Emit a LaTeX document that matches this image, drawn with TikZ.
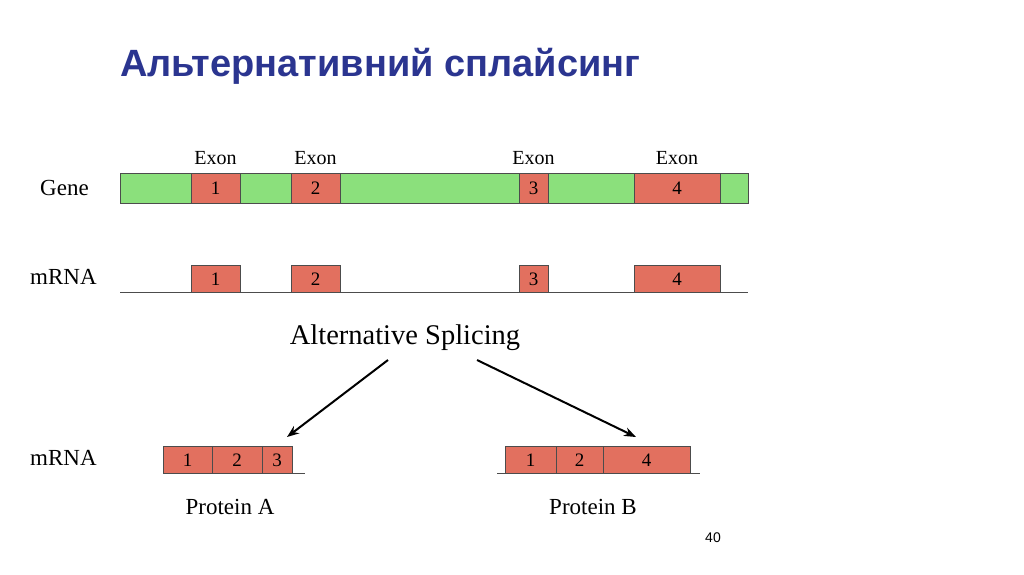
\documentclass[tikz,border=0pt]{standalone}
\usepackage{fontspec}
\usetikzlibrary{arrows.meta}
\setmainfont{Liberation Serif}
\newfontfamily\titlefont{Liberation Sans}
\definecolor{gr}{HTML}{8BE07C}
\definecolor{ex}{HTML}{E2705F}
\definecolor{ttl}{HTML}{2B3590}
\begin{document}
\begin{tikzpicture}[x=1pt,y=-1pt,
  exb/.style={draw=black!70,fill=ex},
  lbl/.style={font=\fontsize{23}{23}\selectfont},
  exl/.style={font=\fontsize{20}{20}\selectfont},
  num/.style={font=\fontsize{19}{19}\selectfont},
  arr/.style={-{Stealth[length=12pt,width=9pt]},line width=2pt}]
\useasboundingbox (0,0) rectangle (1024,574);
\node[anchor=base west,font=\titlefont\bfseries\fontsize{38}{38}\selectfont,text=ttl,inner sep=0] (title) at (120,76) {Альтернативний сплайсинг};
% Gene
\draw[draw=black!70,fill=gr] (120,173) rectangle (748,203);
\foreach \a/\b/\n in {191/240/1,291/340/2,519/548/3,634/720/4}{
  \draw[exb] (\a,173) rectangle (\b,203);
  \node[num] (g\n) at ({(\a+\b)/2},188) {\n};
  \node[exl] (e\n) at ({(\a+\b)/2},158) {Exon};
}
\node[lbl,anchor=west,inner sep=0] (gene) at (40,188) {Gene};
% mRNA
\draw[black!70,line width=0.8pt] (120,292) coordinate (m0) -- (748,292) coordinate (m1);
\foreach \a/\b/\n in {191/240/1,291/340/2,519/548/3,634/720/4}{
  \draw[exb] (\a,265) rectangle (\b,292);
  \node[num] (m\n) at ({(\a+\b)/2},279) {\n};
}
\node[lbl,anchor=west,inner sep=0] (mrna1) at (30,277) {mRNA};
\node[font=\fontsize{28.5}{28.5}\selectfont] (alt) at (405,338) {Alternative Splicing};
\coordinate (la) at (388,360); \coordinate (lb) at (287,437);
\coordinate (ra) at (477,360); \coordinate (rb) at (636,437);
\draw[arr] (la) -- (lb);
\draw[arr] (ra) -- (rb);
% bottom
\draw[black!70,line width=0.8pt] (163,473) -- (305,473);
\foreach \a/\b/\n in {163/212/1,212/262/2,262/292/3}{
  \draw[exb] (\a,446) rectangle (\b,473);
  \node[num] (a\n) at ({(\a+\b)/2},460) {\n};
}
\draw[black!70,line width=0.8pt] (497,473) -- (700,473);
\foreach \a/\b/\n in {505/556/1,556/603/2,603/690/4}{
  \draw[exb] (\a,446) rectangle (\b,473);
  \node[num] (b\n) at ({(\a+\b)/2},460) {\n};
}
\node[lbl,anchor=west,inner sep=0] (mrna2) at (30,458) {mRNA};
\node[lbl] (pa) at (230,507) {Protein A};
\node[lbl] (pb) at (593,507) {Protein B};
\node[font=\titlefont\fontsize{14}{14}\selectfont] (pg) at (713,538) {40};
\end{tikzpicture}
\end{document}
